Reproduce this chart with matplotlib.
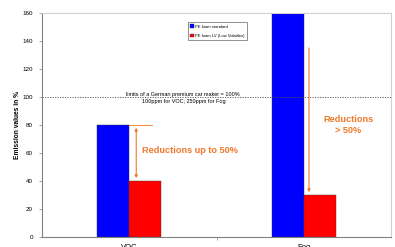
import matplotlib
matplotlib.use("Agg")
import matplotlib.pyplot as plt
import numpy as np

categories = ["VOC", "Fog"]
standard = [80, 200]
low_volatile = [40, 30]
series_names = ["PE foam standard", "PE foam LV (Low Volatiles)"]
limit_value = 100
y_ticks = [0, 20, 40, 60, 80, 100, 120, 140, 160]
fog_arrow_top = 137

plt.rcParams['font.family'] = ['Liberation Sans', 'DejaVu Sans']

fig = plt.figure(figsize=(3.95, 2.47), dpi=100)
ax = fig.add_axes([42/395, 10/247, 349/395, 224/247])

x = np.arange(len(categories))
w = 0.184
ax.bar(x - w/2, standard, w, color='#0000FF', edgecolor='#303060', linewidth=0.3, label=series_names[0])
ax.bar(x + w/2, low_volatile, w, color='#FF0000', edgecolor='#603030', linewidth=0.3, label=series_names[1])

ax.set_xlim(-0.5, 1.5)
ax.set_ylim(0, 160)
ax.set_yticks(y_ticks)
ax.tick_params(axis='y', labelsize=4.5, length=2.5, width=0.5, color='#808080', pad=4)
ax.set_xticks(x)
ax.set_xticklabels(categories, fontsize=5.5)
ax.tick_params(axis='x', length=0, pad=5)
ax.set_xticks([0.5], minor=True)
ax.tick_params(axis='x', which='minor', length=2.5, width=0.5, color='#808080')

for s in ['left', 'bottom']:
    ax.spines[s].set_color('#808080')
    ax.spines[s].set_linewidth(0.8)
for s in ['top', 'right']:
    ax.spines[s].set_color('#D0D0D0')
    ax.spines[s].set_linewidth(0.8)

ax.set_ylabel("Emission values in %", fontsize=4.8, fontweight='bold', labelpad=1)

ax.axhline(limit_value, color='#505050', linestyle=(0, (1.5, 1.5)), linewidth=0.6)
ax.text(0.31, limit_value - 1, "limits of a German premium car maker = 100%\n100ppm for VOC; 250ppm for Fog",
        fontsize=4.0, ha='center', va='center', linespacing=1.5)

orange = '#F07828'
# VOC arrow
ax.plot([0, 0.13], [standard[0], standard[0]], color=orange, lw=0.6)
ax.annotate('', xy=(0.04, low_volatile[0]), xytext=(0.04, standard[0]),
            arrowprops=dict(arrowstyle='<|-|>', color=orange, lw=0.8, mutation_scale=4))
ax.text(0.075, 62, "Reductions up to 50%", color=orange, fontsize=6.6, fontweight='bold', va='center', ha='left')
# Fog arrow
ax.annotate('', xy=(1.03, low_volatile[1]), xytext=(1.03, fog_arrow_top),
            arrowprops=dict(arrowstyle='-|>', color=orange, lw=0.8, mutation_scale=4))
ax.text(1.255, 80, "Reductions\n> 50%", color=orange, fontsize=6.6, fontweight='bold', va='center', ha='center', linespacing=1.4)

leg = ax.legend(loc='upper left', bbox_to_anchor=(0.418, 0.96), fontsize=3.0, frameon=True, fancybox=False,
                edgecolor='#404040', handlelength=0.8, handleheight=0.8, handletextpad=0.4,
                borderpad=0.6, labelspacing=1.2, borderaxespad=0)
leg.get_frame().set_linewidth(0.5)

fig.savefig("out.png", dpi=100)
